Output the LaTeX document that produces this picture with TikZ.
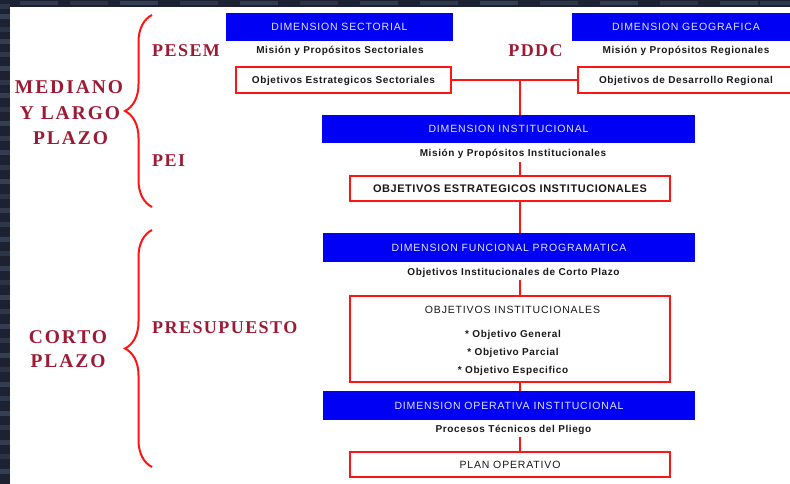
\documentclass[tikz,border=0pt]{standalone}
\usepackage{fontspec}
\setmainfont{Liberation Sans}
\usetikzlibrary{decorations.pathreplacing}
\newfontfamily\bigserifLS[LetterSpace=10]{Liberation Serif}
\newfontfamily\midserifLS[LetterSpace=8]{Liberation Serif}
\newfontfamily\arialBlueLS[LetterSpace=8]{Liberation Sans}
\newfontfamily\arialSubLS[LetterSpace=6]{Liberation Sans}
\newfontfamily\arialTitLS[LetterSpace=5]{Liberation Sans}
\newcommand{\myleftfont}{\bigserifLS\bfseries\fontsize{19.5}{22}\selectfont}
\newcommand{\myrightfont}{\midserifLS\bfseries\fontsize{18}{20}\selectfont}
\newcommand{\mybluefont}{\arialBlueLS\fontsize{10.5}{12}\selectfont}
\newcommand{\mytitlefont}{\arialBlueLS\fontsize{10.5}{12}\selectfont}
\newcommand{\myboldtitlefont}{\arialTitLS\bfseries\fontsize{11}{12}\selectfont}
\newcommand{\mysubfont}{\arialSubLS\bfseries\fontsize{10}{12}\selectfont}
\definecolor{labred}{RGB}{158,26,52}
\definecolor{boxblue}{RGB}{0,0,245}
\definecolor{lineRed}{RGB}{255,20,20}
\definecolor{bgdark}{RGB}{28,34,50}
\definecolor{bglight}{RGB}{70,82,105}
\definecolor{bluetext}{RGB}{228,228,255}
\definecolor{txtdark}{RGB}{25,25,25}
\tikzset{
  bluebox/.style={fill=boxblue, draw=none, inner sep=0pt, minimum height=28pt,
    text=bluetext, font=\mybluefont, text height=7.6pt, text depth=0pt},
  redbox/.style={draw=lineRed, line width=2pt, fill=white, inner sep=0pt,
    text=txtdark, text height=7.6pt, text depth=0pt},
  smallred/.style={redbox, font=\mysubfont},
  bigred/.style={redbox, font=\mytitlefont},
  subtxt/.style={font=\mysubfont, text=txtdark, anchor=base, inner sep=3pt},
  itemtxt/.style={font=\mysubfont, text=txtdark, anchor=base, inner sep=0pt},
  leftlab/.style={font=\myleftfont, text=labred, anchor=base, inner sep=0pt},
  rightlab/.style={font=\myrightfont, text=labred, anchor=base west, inner sep=0pt},
  conn/.style={draw=lineRed, line width=2pt},
  curly/.style={decorate, decoration={brace, amplitude=27pt}, draw=lineRed, line width=2pt}
}
\begin{document}
\begin{tikzpicture}[x=1pt,y=-1pt]
\clip (0,0) rectangle (790,484);
\fill[bgdark] (0,0) rectangle (790,484);
\foreach \yy/\cc in {4/40,14/60,27/35,39/55,52/45,66/65,80/40,93/55,107/35,121/60,136/45,150/55,165/40,179/60,194/35,208/50,222/45,237/60,251/40,266/55,280/35,295/60,309/45,324/55,338/40,353/60,367/35,382/55,396/45,411/60,425/40,440/55,454/35,469/60}{
  \fill[bglight!\cc!bgdark] (0,\yy) rectangle (10,\yy+5);
}
\foreach \xx/\cc in {20/50,70/35,120/60,180/40,240/55,300/35,360/50,420/45,480/60,540/40,600/55,660/35,720/50,760/45}{
  \fill[bglight!\cc!bgdark] (\xx,1) rectangle (\xx+38,5);
}
\fill[white] (10,7) rectangle (790,484);

% blue boxes
\node[bluebox, minimum width=227pt] (sect) at (339.5,27) {DIMENSION SECTORIAL};
\node[bluebox, minimum width=228pt] (geo) at (686,27) {DIMENSION GEOGRAFICA};
\node[bluebox, minimum width=373pt] (inst) at (508.5,129) {DIMENSION INSTITUCIONAL};
\node[bluebox, minimum width=372pt, minimum height=29pt] (func) at (509,247.5) {DIMENSION FUNCIONAL PROGRAMATICA};
\node[bluebox, minimum width=372pt, minimum height=29pt] (oper) at (509,405.5) {DIMENSION OPERATIVA INSTITUCIONAL};

% subtitles
\node[subtxt] (missect) at (340,54) {Misión y Propósitos Sectoriales};
\node[subtxt] (misreg) at (686,54) {Misión y Propósitos Regionales};
\node[subtxt] (misinst) at (513,157) {Misión y Propósitos Institucionales};
\node[subtxt] (subfunc) at (513.5,275) {Objetivos Institucionales de Corto Plazo};
\node[subtxt] (subope) at (513.5,432) {Procesos Técnicos del Pliego};

% red boxes
\node[smallred, minimum width=215pt, minimum height=26pt] (objsect) at (343.5,80) {Objetivos Estrategicos Sectoriales};
\node[smallred, minimum width=222pt, minimum height=26pt, text width=222pt, align=left] (objreg) at (689,80) {\hspace*{21pt}Objetivos de Desarrollo Regional};
\node[redbox, font=\myboldtitlefont, minimum width=320pt, minimum height=25pt] (objest) at (510,188.5) {OBJETIVOS ESTRATEGICOS INSTITUCIONALES};
\node[redbox, minimum width=320pt, minimum height=86pt] (objinst) at (510,339) {};
\node[itemtxt, font=\mytitlefont] (oititle) at (512.5,313) {OBJETIVOS INSTITUCIONALES};
\node[itemtxt] (oigen) at (513,337) {* Objetivo General};
\node[itemtxt] (oipar) at (513,355) {* Objetivo Parcial};
\node[itemtxt] (oiesp) at (513,373) {* Objetivo Especifico};
\node[bigred, minimum width=320pt, minimum height=25pt] (plan) at (510,464.5) {PLAN OPERATIVO};

% connectors
\coordinate (spine) at (519.5,0);
\draw[conn] (objsect.east) -- (objreg.west);
\draw[conn] (spine |- objsect.east) -- (inst.north -| spine);
\draw[conn] (misinst.south -| spine) -- (objest.north -| spine);
\draw[conn] (objest.south -| spine) -- (func.north -| spine);
\draw[conn] (subfunc.south -| spine) -- (objinst.north -| spine);
\draw[conn] (objinst.south -| spine) -- (oper.north -| spine);
\draw[conn] (subope.south -| spine) -- (plan.north -| spine);

% braces
\coordinate (b1s) at (152,207);
\coordinate (b1e) at (152,15);
\coordinate (b2s) at (152,467);
\coordinate (b2e) at (152,230);
\draw[curly] (b1s) -- (b1e);
\draw[curly] (b2s) -- (b2e);

% labels
\node[leftlab] (lab1) at (69,94) {MEDIANO};
\node[leftlab] (lab2) at (70,120) {Y LARGO};
\node[leftlab] (lab3) at (70.5,145) {PLAZO};
\node[leftlab] (lab4) at (68,343) {CORTO};
\node[leftlab] (lab5) at (68,367) {PLAZO};
\node[rightlab] (pesem) at (152,57) {PESEM};
\node[rightlab] (pei) at (152,167) {PEI};
\node[rightlab] (presu) at (152,333) {PRESUPUESTO};
\node[rightlab, anchor=base] (pddc) at (535.5,57) {PDDC};
\end{tikzpicture}
\end{document}
